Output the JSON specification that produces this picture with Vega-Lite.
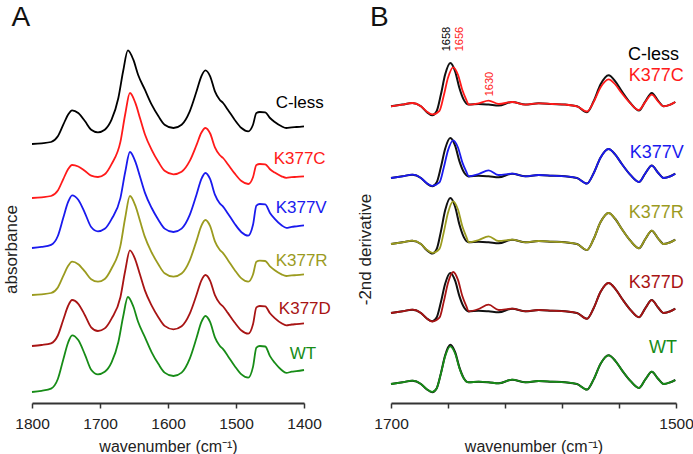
{
"$schema": "https://vega.github.io/schema/vega-lite/v6.json",
"padding": {"left": 2, "top": 4, "right": 0, "bottom": 0},
"background": "white",
"bounds": "flush",
"spacing": 87,
"config": {
  "view": {"stroke": null},
  "font": "Liberation Sans",
  "axisX": {"grid": false, "domainColor": "#333333", "domainWidth": 1.8, "tickColor": "#333333", "tickWidth": 1.5, "tickSize": 5, "labelFontSize": 15.5, "labelColor": "#222222", "labelPadding": 8, "labelFlush": false, "labelOverlap": false, "titleFontSize": 16, "titleFontWeight": "normal", "titleColor": "#222222", "titlePadding": 7},
  "axisY": {"grid": false, "domain": false, "ticks": false, "labels": false, "titleFontSize": 17, "titleFontWeight": "normal", "titleColor": "#222222", "titlePadding": 12}
},
"datasets": {
"a": [
{"s":"C-less","w":1800,"v":259},{"s":"C-less","w":1786,"v":259.7},{"s":"C-less","w":1772,"v":261},{"s":"C-less","w":1762,"v":266.7},{"s":"C-less","w":1754,"v":278.3},{"s":"C-less","w":1747,"v":288.3},{"s":"C-less","w":1741,"v":292.7},{"s":"C-less","w":1732,"v":290},{"s":"C-less","w":1722,"v":281.7},{"s":"C-less","w":1713,"v":273.3},{"s":"C-less","w":1703,"v":270.7},{"s":"C-less","w":1693,"v":273.3},{"s":"C-less","w":1683,"v":283.3},{"s":"C-less","w":1673,"v":305},{"s":"C-less","w":1666,"v":331.7},{"s":"C-less","w":1659,"v":352.7},{"s":"C-less","w":1651,"v":343.3},{"s":"C-less","w":1644,"v":328.3},{"s":"C-less","w":1634,"v":313.3},{"s":"C-less","w":1624,"v":298.3},{"s":"C-less","w":1614,"v":286.7},{"s":"C-less","w":1605,"v":278.3},{"s":"C-less","w":1592,"v":275},{"s":"C-less","w":1580,"v":278.3},{"s":"C-less","w":1568,"v":291.7},{"s":"C-less","w":1558,"v":311.7},{"s":"C-less","w":1551,"v":326.7},{"s":"C-less","w":1545,"v":332.7},{"s":"C-less","w":1538,"v":326.7},{"s":"C-less","w":1531,"v":311.7},{"s":"C-less","w":1524,"v":303.3},{"s":"C-less","w":1519,"v":300},{"s":"C-less","w":1512,"v":293.3},{"s":"C-less","w":1502,"v":283.3},{"s":"C-less","w":1492,"v":275},{"s":"C-less","w":1482,"v":271.7},{"s":"C-less","w":1475,"v":278.3},{"s":"C-less","w":1470,"v":290},{"s":"C-less","w":1465,"v":291},{"s":"C-less","w":1457,"v":290.7},{"s":"C-less","w":1450,"v":285},{"s":"C-less","w":1443,"v":281},{"s":"C-less","w":1433,"v":276.7},{"s":"C-less","w":1426,"v":275},{"s":"C-less","w":1418,"v":275.7},{"s":"C-less","w":1411,"v":276},{"s":"C-less","w":1400,"v":276.7},
{"s":"K377C","w":1800,"v":205},{"s":"K377C","w":1786,"v":205.7},{"s":"K377C","w":1772,"v":207},{"s":"K377C","w":1762,"v":212.5},{"s":"K377C","w":1754,"v":223.9},{"s":"K377C","w":1747,"v":233.7},{"s":"K377C","w":1741,"v":238},{"s":"K377C","w":1732,"v":236.5},{"s":"K377C","w":1722,"v":232},{"s":"K377C","w":1713,"v":227.4},{"s":"K377C","w":1703,"v":226},{"s":"K377C","w":1693,"v":228.7},{"s":"K377C","w":1683,"v":238.9},{"s":"K377C","w":1670,"v":261.1},{"s":"K377C","w":1663,"v":288.5},{"s":"K377C","w":1656,"v":310},{"s":"K377C","w":1648,"v":300.1},{"s":"K377C","w":1641,"v":284.5},{"s":"K377C","w":1634,"v":268.8},{"s":"K377C","w":1624,"v":253.1},{"s":"K377C","w":1614,"v":240.9},{"s":"K377C","w":1605,"v":232.2},{"s":"K377C","w":1592,"v":228.7},{"s":"K377C","w":1580,"v":231.3},{"s":"K377C","w":1568,"v":242.1},{"s":"K377C","w":1558,"v":258.1},{"s":"K377C","w":1551,"v":270.2},{"s":"K377C","w":1545,"v":275},{"s":"K377C","w":1538,"v":269.5},{"s":"K377C","w":1531,"v":255.7},{"s":"K377C","w":1524,"v":248},{"s":"K377C","w":1519,"v":245},{"s":"K377C","w":1512,"v":238.8},{"s":"K377C","w":1502,"v":229.6},{"s":"K377C","w":1492,"v":222},{"s":"K377C","w":1482,"v":219},{"s":"K377C","w":1475,"v":225.8},{"s":"K377C","w":1470,"v":238},{"s":"K377C","w":1465,"v":239},{"s":"K377C","w":1457,"v":238.7},{"s":"K377C","w":1450,"v":233.8},{"s":"K377C","w":1443,"v":230.4},{"s":"K377C","w":1433,"v":226.7},{"s":"K377C","w":1426,"v":225.2},{"s":"K377C","w":1418,"v":225.8},{"s":"K377C","w":1411,"v":226.1},{"s":"K377C","w":1400,"v":226.7},
{"s":"K377V","w":1800,"v":155},{"s":"K377V","w":1786,"v":156.1},{"s":"K377V","w":1772,"v":158.1},{"s":"K377V","w":1762,"v":167},{"s":"K377V","w":1754,"v":185.2},{"s":"K377V","w":1747,"v":200.8},{"s":"K377V","w":1741,"v":207.7},{"s":"K377V","w":1732,"v":203.3},{"s":"K377V","w":1722,"v":189.7},{"s":"K377V","w":1713,"v":176},{"s":"K377V","w":1703,"v":171.7},{"s":"K377V","w":1693,"v":174.2},{"s":"K377V","w":1683,"v":183.9},{"s":"K377V","w":1670,"v":204.9},{"s":"K377V","w":1663,"v":230.7},{"s":"K377V","w":1656,"v":251},{"s":"K377V","w":1648,"v":241.3},{"s":"K377V","w":1641,"v":225.9},{"s":"K377V","w":1634,"v":210.4},{"s":"K377V","w":1624,"v":195},{"s":"K377V","w":1614,"v":183.1},{"s":"K377V","w":1605,"v":174.4},{"s":"K377V","w":1592,"v":171},{"s":"K377V","w":1580,"v":174.4},{"s":"K377V","w":1568,"v":188.1},{"s":"K377V","w":1558,"v":208.5},{"s":"K377V","w":1551,"v":223.9},{"s":"K377V","w":1545,"v":230},{"s":"K377V","w":1538,"v":223.8},{"s":"K377V","w":1531,"v":208.4},{"s":"K377V","w":1524,"v":199.8},{"s":"K377V","w":1519,"v":196.4},{"s":"K377V","w":1512,"v":189.6},{"s":"K377V","w":1502,"v":179.3},{"s":"K377V","w":1492,"v":170.8},{"s":"K377V","w":1482,"v":167.4},{"s":"K377V","w":1475,"v":178.2},{"s":"K377V","w":1470,"v":197.4},{"s":"K377V","w":1465,"v":199},{"s":"K377V","w":1457,"v":198.6},{"s":"K377V","w":1450,"v":190.1},{"s":"K377V","w":1443,"v":184.1},{"s":"K377V","w":1433,"v":177.7},{"s":"K377V","w":1426,"v":175.2},{"s":"K377V","w":1418,"v":176.2},{"s":"K377V","w":1411,"v":176.7},{"s":"K377V","w":1400,"v":177.7},
{"s":"K377R","w":1800,"v":108},{"s":"K377R","w":1786,"v":108.7},{"s":"K377R","w":1772,"v":110},{"s":"K377R","w":1762,"v":115.6},{"s":"K377R","w":1754,"v":127.1},{"s":"K377R","w":1747,"v":136.9},{"s":"K377R","w":1741,"v":141.3},{"s":"K377R","w":1732,"v":138.8},{"s":"K377R","w":1722,"v":131.3},{"s":"K377R","w":1713,"v":123.7},{"s":"K377R","w":1703,"v":121.3},{"s":"K377R","w":1693,"v":124},{"s":"K377R","w":1683,"v":134.5},{"s":"K377R","w":1670,"v":157.1},{"s":"K377R","w":1663,"v":185},{"s":"K377R","w":1656,"v":207},{"s":"K377R","w":1648,"v":197.3},{"s":"K377R","w":1641,"v":181.7},{"s":"K377R","w":1634,"v":166.1},{"s":"K377R","w":1624,"v":150.5},{"s":"K377R","w":1614,"v":138.5},{"s":"K377R","w":1605,"v":129.7},{"s":"K377R","w":1592,"v":126.3},{"s":"K377R","w":1580,"v":129.5},{"s":"K377R","w":1568,"v":142.7},{"s":"K377R","w":1558,"v":162.4},{"s":"K377R","w":1551,"v":177.1},{"s":"K377R","w":1545,"v":183},{"s":"K377R","w":1538,"v":176.9},{"s":"K377R","w":1531,"v":161.7},{"s":"K377R","w":1524,"v":153.3},{"s":"K377R","w":1519,"v":149.9},{"s":"K377R","w":1512,"v":143.1},{"s":"K377R","w":1502,"v":133},{"s":"K377R","w":1492,"v":124.6},{"s":"K377R","w":1482,"v":121.3},{"s":"K377R","w":1475,"v":128.5},{"s":"K377R","w":1470,"v":141.2},{"s":"K377R","w":1465,"v":142.3},{"s":"K377R","w":1457,"v":142},{"s":"K377R","w":1450,"v":136.6},{"s":"K377R","w":1443,"v":132.7},{"s":"K377R","w":1433,"v":128.6},{"s":"K377R","w":1426,"v":127},{"s":"K377R","w":1418,"v":127.6},{"s":"K377R","w":1411,"v":127.9},{"s":"K377R","w":1400,"v":128.6},
{"s":"K377D","w":1800,"v":57},{"s":"K377D","w":1786,"v":58},{"s":"K377D","w":1772,"v":59.7},{"s":"K377D","w":1762,"v":67.5},{"s":"K377D","w":1754,"v":83.3},{"s":"K377D","w":1747,"v":97},{"s":"K377D","w":1741,"v":103},{"s":"K377D","w":1732,"v":99.2},{"s":"K377D","w":1722,"v":87.5},{"s":"K377D","w":1713,"v":75.7},{"s":"K377D","w":1703,"v":72},{"s":"K377D","w":1693,"v":74.6},{"s":"K377D","w":1683,"v":84.4},{"s":"K377D","w":1670,"v":105.8},{"s":"K377D","w":1663,"v":132},{"s":"K377D","w":1656,"v":152.7},{"s":"K377D","w":1648,"v":143.2},{"s":"K377D","w":1641,"v":127.9},{"s":"K377D","w":1634,"v":112.6},{"s":"K377D","w":1624,"v":97.4},{"s":"K377D","w":1614,"v":85.6},{"s":"K377D","w":1605,"v":77.1},{"s":"K377D","w":1592,"v":73.7},{"s":"K377D","w":1580,"v":76.8},{"s":"K377D","w":1568,"v":89.4},{"s":"K377D","w":1558,"v":108.2},{"s":"K377D","w":1551,"v":122.4},{"s":"K377D","w":1545,"v":128},{"s":"K377D","w":1538,"v":122.2},{"s":"K377D","w":1531,"v":107.8},{"s":"K377D","w":1524,"v":99.7},{"s":"K377D","w":1519,"v":96.5},{"s":"K377D","w":1512,"v":90.1},{"s":"K377D","w":1502,"v":80.5},{"s":"K377D","w":1492,"v":72.5},{"s":"K377D","w":1482,"v":69.3},{"s":"K377D","w":1475,"v":78.8},{"s":"K377D","w":1470,"v":95.6},{"s":"K377D","w":1465,"v":97},{"s":"K377D","w":1457,"v":96.6},{"s":"K377D","w":1450,"v":89.7},{"s":"K377D","w":1443,"v":84.9},{"s":"K377D","w":1433,"v":79.7},{"s":"K377D","w":1426,"v":77.6},{"s":"K377D","w":1418,"v":78.5},{"s":"K377D","w":1411,"v":78.9},{"s":"K377D","w":1400,"v":79.7},
{"s":"WT","w":1800,"v":11},{"s":"WT","w":1786,"v":12.2},{"s":"WT","w":1772,"v":14.4},{"s":"WT","w":1762,"v":24},{"s":"WT","w":1754,"v":43.5},{"s":"WT","w":1747,"v":60.3},{"s":"WT","w":1741,"v":67.7},{"s":"WT","w":1732,"v":62.9},{"s":"WT","w":1722,"v":48.2},{"s":"WT","w":1713,"v":33.3},{"s":"WT","w":1703,"v":28.7},{"s":"WT","w":1693,"v":31.2},{"s":"WT","w":1683,"v":40.6},{"s":"WT","w":1673,"v":61},{"s":"WT","w":1666,"v":86.2},{"s":"WT","w":1659,"v":106},{"s":"WT","w":1651,"v":96.5},{"s":"WT","w":1644,"v":81.2},{"s":"WT","w":1634,"v":65.9},{"s":"WT","w":1624,"v":50.7},{"s":"WT","w":1614,"v":38.9},{"s":"WT","w":1605,"v":30.4},{"s":"WT","w":1592,"v":27},{"s":"WT","w":1580,"v":30.4},{"s":"WT","w":1568,"v":44.4},{"s":"WT","w":1558,"v":65.2},{"s":"WT","w":1551,"v":80.8},{"s":"WT","w":1545,"v":87},{"s":"WT","w":1538,"v":80.9},{"s":"WT","w":1531,"v":65.7},{"s":"WT","w":1524,"v":57.3},{"s":"WT","w":1519,"v":53.9},{"s":"WT","w":1512,"v":47.1},{"s":"WT","w":1502,"v":37},{"s":"WT","w":1492,"v":28.6},{"s":"WT","w":1482,"v":25.3},{"s":"WT","w":1475,"v":36.1},{"s":"WT","w":1470,"v":55.3},{"s":"WT","w":1465,"v":57},{"s":"WT","w":1457,"v":56.5},{"s":"WT","w":1450,"v":46.9},{"s":"WT","w":1443,"v":40.2},{"s":"WT","w":1433,"v":33},{"s":"WT","w":1426,"v":30.1},{"s":"WT","w":1418,"v":31.3},{"s":"WT","w":1411,"v":31.8},{"s":"WT","w":1400,"v":33}
],
"la": [
{"s":"C-less","w":1441.7,"v":299.7},
{"s":"K377C","w":1444.6,"v":243.7},
{"s":"K377V","w":1441.7,"v":194.7},
{"s":"K377R","w":1441.7,"v":141.7},
{"s":"K377D","w":1437,"v":93.7},
{"s":"WT","w":1421,"v":48.7}
],
"lb": [
{"s":"C-less","w":1497.9,"v":348.4},
{"s":"K377C","w":1494.6,"v":326.7},
{"s":"K377V","w":1494.6,"v":250},
{"s":"K377R","w":1494.6,"v":190},
{"s":"K377D","w":1494.6,"v":120},
{"s":"WT","w":1499.3,"v":55}
],
"ann": [
{"t":"1658","s":"C-less","w":1660.7,"v":351.7},
{"t":"1656","s":"K377C","w":1651.9,"v":351.7},
{"t":"1630","s":"K377C","w":1630.2,"v":306.7}
],
"pa": [{"t":"A","w":1830,"v":376.7}],
"pb": [{"t":"B","w":1714.7,"v":376.7}],
"k": [
{"s":"b1","w":1700,"v":296.7},{"s":"b1","w":1692,"v":298.4},{"s":"b1","w":1685,"v":300},{"s":"b1","w":1679,"v":296.7},{"s":"b1","w":1675,"v":291},{"s":"b1","w":1671,"v":287.7},{"s":"b1","w":1668,"v":291.7},{"s":"b1","w":1665,"v":308.4},{"s":"b1","w":1662,"v":328.4},{"s":"b1","w":1658.4,"v":340},{"s":"b1","w":1655,"v":331.7},{"s":"b1","w":1652,"v":315},{"s":"b1","w":1649,"v":303.4},{"s":"b1","w":1645.5,"v":298.4},{"s":"b1","w":1638.5,"v":299},{"s":"b1","w":1631.5,"v":298.4},{"s":"b1","w":1624.4,"v":297.4},{"s":"b1","w":1615,"v":301},{"s":"b1","w":1605.7,"v":298.4},{"s":"b1","w":1596.4,"v":299.7},{"s":"b1","w":1587,"v":299},{"s":"b1","w":1577.7,"v":298.4},{"s":"b1","w":1569.5,"v":296.7},{"s":"b1","w":1562.5,"v":290.7},{"s":"b1","w":1557.8,"v":301.7},{"s":"b1","w":1553,"v":318.4},{"s":"b1","w":1547.3,"v":327.7},{"s":"b1","w":1542.6,"v":321.7},{"s":"b1","w":1538,"v":311.7},{"s":"b1","w":1532,"v":300},{"s":"b1","w":1526,"v":292.4},{"s":"b1","w":1521.5,"v":301.7},{"s":"b1","w":1517,"v":310},{"s":"b1","w":1512.6,"v":302.4},{"s":"b1","w":1508.7,"v":296.7},{"s":"b1","w":1504,"v":298.4},{"s":"b1","w":1500.5,"v":301},
{"s":"b2","w":1700,"v":225},{"s":"b2","w":1692,"v":226.7},{"s":"b2","w":1685,"v":228.3},{"s":"b2","w":1679,"v":225},{"s":"b2","w":1675,"v":219.7},{"s":"b2","w":1671,"v":216.7},{"s":"b2","w":1668,"v":220.4},{"s":"b2","w":1665,"v":235.8},{"s":"b2","w":1662,"v":254.3},{"s":"b2","w":1658.4,"v":265},{"s":"b2","w":1655,"v":257.3},{"s":"b2","w":1652,"v":241.9},{"s":"b2","w":1649,"v":231.2},{"s":"b2","w":1645.5,"v":226.6},{"s":"b2","w":1638.5,"v":227.3},{"s":"b2","w":1631.5,"v":226.7},{"s":"b2","w":1624.4,"v":225.7},{"s":"b2","w":1615,"v":229.3},{"s":"b2","w":1605.7,"v":226.7},{"s":"b2","w":1596.4,"v":228},{"s":"b2","w":1587,"v":227.3},{"s":"b2","w":1577.7,"v":226.7},{"s":"b2","w":1569.5,"v":225},{"s":"b2","w":1562.5,"v":219.4},{"s":"b2","w":1557.8,"v":229.7},{"s":"b2","w":1553,"v":245.3},{"s":"b2","w":1547.3,"v":254},{"s":"b2","w":1542.6,"v":248.4},{"s":"b2","w":1538,"v":239},{"s":"b2","w":1532,"v":228.1},{"s":"b2","w":1526,"v":221},{"s":"b2","w":1521.5,"v":229.7},{"s":"b2","w":1517,"v":237.4},{"s":"b2","w":1512.6,"v":230.3},{"s":"b2","w":1508.7,"v":225},{"s":"b2","w":1504,"v":226.7},{"s":"b2","w":1500.5,"v":229.3},
{"s":"b3","w":1700,"v":159},{"s":"b3","w":1692,"v":160.7},{"s":"b3","w":1685,"v":162.3},{"s":"b3","w":1679,"v":159},{"s":"b3","w":1675,"v":152.9},{"s":"b3","w":1671,"v":149.4},{"s":"b3","w":1668,"v":153.7},{"s":"b3","w":1665,"v":171.4},{"s":"b3","w":1662,"v":192.7},{"s":"b3","w":1658.4,"v":205},{"s":"b3","w":1655,"v":196.2},{"s":"b3","w":1652,"v":178.4},{"s":"b3","w":1649,"v":166.1},{"s":"b3","w":1645.5,"v":160.7},{"s":"b3","w":1638.5,"v":161.3},{"s":"b3","w":1631.5,"v":160.7},{"s":"b3","w":1624.4,"v":159.7},{"s":"b3","w":1615,"v":163.3},{"s":"b3","w":1605.7,"v":160.7},{"s":"b3","w":1596.4,"v":162},{"s":"b3","w":1587,"v":161.3},{"s":"b3","w":1577.7,"v":160.7},{"s":"b3","w":1569.5,"v":159},{"s":"b3","w":1562.5,"v":153},{"s":"b3","w":1557.8,"v":164},{"s":"b3","w":1553,"v":180.7},{"s":"b3","w":1547.3,"v":190},{"s":"b3","w":1542.6,"v":184},{"s":"b3","w":1538,"v":174},{"s":"b3","w":1532,"v":162.3},{"s":"b3","w":1526,"v":154.7},{"s":"b3","w":1521.5,"v":164},{"s":"b3","w":1517,"v":172.3},{"s":"b3","w":1512.6,"v":164.7},{"s":"b3","w":1508.7,"v":159},{"s":"b3","w":1504,"v":160.7},{"s":"b3","w":1500.5,"v":163.3},
{"s":"b4","w":1700,"v":90},{"s":"b4","w":1692,"v":91.7},{"s":"b4","w":1685,"v":93.3},{"s":"b4","w":1679,"v":90},{"s":"b4","w":1675,"v":84.7},{"s":"b4","w":1671,"v":81.7},{"s":"b4","w":1668,"v":85.4},{"s":"b4","w":1665,"v":100.8},{"s":"b4","w":1662,"v":119.3},{"s":"b4","w":1658.4,"v":130},{"s":"b4","w":1655,"v":122.3},{"s":"b4","w":1652,"v":106.9},{"s":"b4","w":1649,"v":96.2},{"s":"b4","w":1645.5,"v":91.6},{"s":"b4","w":1638.5,"v":92.3},{"s":"b4","w":1631.5,"v":91.7},{"s":"b4","w":1624.4,"v":90.7},{"s":"b4","w":1615,"v":94.3},{"s":"b4","w":1605.7,"v":91.7},{"s":"b4","w":1596.4,"v":93},{"s":"b4","w":1587,"v":92.3},{"s":"b4","w":1577.7,"v":91.7},{"s":"b4","w":1569.5,"v":90},{"s":"b4","w":1562.5,"v":84.2},{"s":"b4","w":1557.8,"v":94.8},{"s":"b4","w":1553,"v":111},{"s":"b4","w":1547.3,"v":120},{"s":"b4","w":1542.6,"v":114.2},{"s":"b4","w":1538,"v":104.5},{"s":"b4","w":1532,"v":93.2},{"s":"b4","w":1526,"v":85.8},{"s":"b4","w":1521.5,"v":94.8},{"s":"b4","w":1517,"v":102.9},{"s":"b4","w":1512.6,"v":95.5},{"s":"b4","w":1508.7,"v":90},{"s":"b4","w":1504,"v":91.7},{"s":"b4","w":1500.5,"v":94.3},
{"s":"b5","w":1700,"v":19},{"s":"b5","w":1692,"v":20.7},{"s":"b5","w":1685,"v":22.3},{"s":"b5","w":1679,"v":19},{"s":"b5","w":1675,"v":13.8},{"s":"b5","w":1671,"v":10.8},{"s":"b5","w":1668,"v":14.5},{"s":"b5","w":1665,"v":29.6},{"s":"b5","w":1662,"v":47.8},{"s":"b5","w":1658.4,"v":58.3},{"s":"b5","w":1655,"v":50.8},{"s":"b5","w":1652,"v":35.6},{"s":"b5","w":1649,"v":25.1},{"s":"b5","w":1645.5,"v":20.7},{"s":"b5","w":1638.5,"v":21.3},{"s":"b5","w":1631.5,"v":20.7},{"s":"b5","w":1624.4,"v":19.7},{"s":"b5","w":1615,"v":23.3},{"s":"b5","w":1605.7,"v":20.7},{"s":"b5","w":1596.4,"v":22},{"s":"b5","w":1587,"v":21.3},{"s":"b5","w":1577.7,"v":20.7},{"s":"b5","w":1569.5,"v":19},{"s":"b5","w":1562.5,"v":13.4},{"s":"b5","w":1557.8,"v":23.6},{"s":"b5","w":1553,"v":39.1},{"s":"b5","w":1547.3,"v":47.7},{"s":"b5","w":1542.6,"v":42.2},{"s":"b5","w":1538,"v":32.9},{"s":"b5","w":1532,"v":22.1},{"s":"b5","w":1526,"v":15},{"s":"b5","w":1521.5,"v":23.6},{"s":"b5","w":1517,"v":31.3},{"s":"b5","w":1512.6,"v":24.3},{"s":"b5","w":1508.7,"v":19},{"s":"b5","w":1504,"v":20.7},{"s":"b5","w":1500.5,"v":23}
],
"c": [
{"s":"K377C","w":1700,"v":296.7},{"s":"K377C","w":1692,"v":298.4},{"s":"K377C","w":1685,"v":300},{"s":"K377C","w":1679,"v":296.7},{"s":"K377C","w":1675,"v":291.6},{"s":"K377C","w":1671,"v":288.6},{"s":"K377C","w":1666,"v":292.2},{"s":"K377C","w":1663,"v":307.2},{"s":"K377C","w":1660,"v":325.2},{"s":"K377C","w":1656.4,"v":335.7},{"s":"K377C","w":1653,"v":328.2},{"s":"K377C","w":1650,"v":313.2},{"s":"K377C","w":1647,"v":302.7},{"s":"K377C","w":1645.5,"v":298.4},{"s":"K377C","w":1638.5,"v":299.7},{"s":"K377C","w":1631.5,"v":302.4},{"s":"K377C","w":1624.4,"v":299},{"s":"K377C","w":1615,"v":301},{"s":"K377C","w":1605.7,"v":298.4},{"s":"K377C","w":1596.4,"v":299.7},{"s":"K377C","w":1587,"v":299},{"s":"K377C","w":1577.7,"v":298.4},{"s":"K377C","w":1569.5,"v":296.7},{"s":"K377C","w":1562.5,"v":291.5},{"s":"K377C","w":1557.8,"v":301.1},{"s":"K377C","w":1553,"v":315.6},{"s":"K377C","w":1547.3,"v":323.7},{"s":"K377C","w":1542.6,"v":318.5},{"s":"K377C","w":1538,"v":309.7},{"s":"K377C","w":1532,"v":299.6},{"s":"K377C","w":1526,"v":293},{"s":"K377C","w":1521.5,"v":301.1},{"s":"K377C","w":1517,"v":308.3},{"s":"K377C","w":1512.6,"v":301.7},{"s":"K377C","w":1508.7,"v":296.7},{"s":"K377C","w":1504,"v":298.4},{"s":"K377C","w":1500.5,"v":301},
{"s":"K377V","w":1700,"v":225},{"s":"K377V","w":1692,"v":226.7},{"s":"K377V","w":1685,"v":228.3},{"s":"K377V","w":1679,"v":225},{"s":"K377V","w":1675,"v":220},{"s":"K377V","w":1671,"v":217.2},{"s":"K377V","w":1666,"v":220.6},{"s":"K377V","w":1663,"v":235.2},{"s":"K377V","w":1660,"v":252.6},{"s":"K377V","w":1656.4,"v":262.7},{"s":"K377V","w":1653,"v":255.5},{"s":"K377V","w":1650,"v":240.9},{"s":"K377V","w":1647,"v":230.8},{"s":"K377V","w":1645.5,"v":226.7},{"s":"K377V","w":1638.5,"v":229},{"s":"K377V","w":1631.5,"v":232.7},{"s":"K377V","w":1624.4,"v":228},{"s":"K377V","w":1615,"v":229.3},{"s":"K377V","w":1605.7,"v":226.7},{"s":"K377V","w":1596.4,"v":228},{"s":"K377V","w":1587,"v":227.3},{"s":"K377V","w":1577.7,"v":226.7},{"s":"K377V","w":1569.5,"v":225},{"s":"K377V","w":1562.5,"v":219.4},{"s":"K377V","w":1557.8,"v":229.7},{"s":"K377V","w":1553,"v":245.3},{"s":"K377V","w":1547.3,"v":254},{"s":"K377V","w":1542.6,"v":248.4},{"s":"K377V","w":1538,"v":239},{"s":"K377V","w":1532,"v":228.1},{"s":"K377V","w":1526,"v":221},{"s":"K377V","w":1521.5,"v":229.7},{"s":"K377V","w":1517,"v":237.4},{"s":"K377V","w":1512.6,"v":230.3},{"s":"K377V","w":1508.7,"v":225},{"s":"K377V","w":1504,"v":226.7},{"s":"K377V","w":1500.5,"v":229.3},
{"s":"K377R","w":1700,"v":159},{"s":"K377R","w":1692,"v":160.7},{"s":"K377R","w":1685,"v":162.3},{"s":"K377R","w":1679,"v":159},{"s":"K377R","w":1675,"v":153.4},{"s":"K377R","w":1671,"v":150.1},{"s":"K377R","w":1666,"v":154.1},{"s":"K377R","w":1663,"v":170.5},{"s":"K377R","w":1660,"v":190.3},{"s":"K377R","w":1656.4,"v":201.7},{"s":"K377R","w":1653,"v":193.5},{"s":"K377R","w":1650,"v":177},{"s":"K377R","w":1647,"v":165.6},{"s":"K377R","w":1645.5,"v":160.7},{"s":"K377R","w":1638.5,"v":163},{"s":"K377R","w":1631.5,"v":166.7},{"s":"K377R","w":1624.4,"v":162},{"s":"K377R","w":1615,"v":163.3},{"s":"K377R","w":1605.7,"v":160.7},{"s":"K377R","w":1596.4,"v":162},{"s":"K377R","w":1587,"v":161.3},{"s":"K377R","w":1577.7,"v":160.7},{"s":"K377R","w":1569.5,"v":159},{"s":"K377R","w":1562.5,"v":153},{"s":"K377R","w":1557.8,"v":164},{"s":"K377R","w":1553,"v":180.7},{"s":"K377R","w":1547.3,"v":190},{"s":"K377R","w":1542.6,"v":184},{"s":"K377R","w":1538,"v":174},{"s":"K377R","w":1532,"v":162.3},{"s":"K377R","w":1526,"v":154.7},{"s":"K377R","w":1521.5,"v":164},{"s":"K377R","w":1517,"v":172.3},{"s":"K377R","w":1512.6,"v":164.7},{"s":"K377R","w":1508.7,"v":159},{"s":"K377R","w":1504,"v":160.7},{"s":"K377R","w":1500.5,"v":163.3},
{"s":"K377D","w":1700,"v":90},{"s":"K377D","w":1692,"v":91.7},{"s":"K377D","w":1685,"v":93.3},{"s":"K377D","w":1679,"v":90},{"s":"K377D","w":1675,"v":84.6},{"s":"K377D","w":1671,"v":81.5},{"s":"K377D","w":1666,"v":85.3},{"s":"K377D","w":1663,"v":101.1},{"s":"K377D","w":1660,"v":120},{"s":"K377D","w":1656.4,"v":131},{"s":"K377D","w":1653,"v":123.1},{"s":"K377D","w":1650,"v":107.3},{"s":"K377D","w":1647,"v":96.3},{"s":"K377D","w":1645.5,"v":91.7},{"s":"K377D","w":1638.5,"v":94},{"s":"K377D","w":1631.5,"v":98.3},{"s":"K377D","w":1624.4,"v":93},{"s":"K377D","w":1615,"v":94.3},{"s":"K377D","w":1605.7,"v":91.7},{"s":"K377D","w":1596.4,"v":93},{"s":"K377D","w":1587,"v":92.3},{"s":"K377D","w":1577.7,"v":91.7},{"s":"K377D","w":1569.5,"v":90},{"s":"K377D","w":1562.5,"v":84.2},{"s":"K377D","w":1557.8,"v":94.8},{"s":"K377D","w":1553,"v":111},{"s":"K377D","w":1547.3,"v":120},{"s":"K377D","w":1542.6,"v":114.2},{"s":"K377D","w":1538,"v":104.5},{"s":"K377D","w":1532,"v":93.2},{"s":"K377D","w":1526,"v":85.8},{"s":"K377D","w":1521.5,"v":94.8},{"s":"K377D","w":1517,"v":102.9},{"s":"K377D","w":1512.6,"v":95.5},{"s":"K377D","w":1508.7,"v":90},{"s":"K377D","w":1504,"v":91.7},{"s":"K377D","w":1500.5,"v":94.3},
{"s":"WT","w":1700,"v":19},{"s":"WT","w":1692,"v":20.7},{"s":"WT","w":1685,"v":22.3},{"s":"WT","w":1679,"v":19},{"s":"WT","w":1675,"v":14},{"s":"WT","w":1671,"v":11.2},{"s":"WT","w":1668,"v":14.6},{"s":"WT","w":1665,"v":29.2},{"s":"WT","w":1662,"v":46.6},{"s":"WT","w":1658.4,"v":56.7},{"s":"WT","w":1655,"v":49.5},{"s":"WT","w":1652,"v":34.9},{"s":"WT","w":1649,"v":24.8},{"s":"WT","w":1645.5,"v":20.7},{"s":"WT","w":1638.5,"v":21.3},{"s":"WT","w":1631.5,"v":20.7},{"s":"WT","w":1624.4,"v":19.7},{"s":"WT","w":1615,"v":23.3},{"s":"WT","w":1605.7,"v":20.7},{"s":"WT","w":1596.4,"v":22},{"s":"WT","w":1587,"v":21.3},{"s":"WT","w":1577.7,"v":20.7},{"s":"WT","w":1569.5,"v":19},{"s":"WT","w":1562.5,"v":13.4},{"s":"WT","w":1557.8,"v":23.6},{"s":"WT","w":1553,"v":39.1},{"s":"WT","w":1547.3,"v":47.7},{"s":"WT","w":1542.6,"v":42.2},{"s":"WT","w":1538,"v":32.9},{"s":"WT","w":1532,"v":22.1},{"s":"WT","w":1526,"v":15},{"s":"WT","w":1521.5,"v":23.6},{"s":"WT","w":1517,"v":31.3},{"s":"WT","w":1512.6,"v":24.3},{"s":"WT","w":1508.7,"v":19},{"s":"WT","w":1504,"v":20.7},{"s":"WT","w":1500.5,"v":23}
]
},
"hconcat": [
{
  "width": 272, "height": 360,
  "layer": [
    {"data": {"name": "a"}, "mark": {"type": "line", "strokeWidth": 1.8, "interpolate": "monotone"},
     "encoding": {
       "x": {"field": "w", "type": "quantitative", "scale": {"domain": [1400, 1800], "reverse": true, "nice": false, "zero": false}, "axis": {"title": "wavenumber (cm⁻¹)", "values": [1800, 1750, 1700, 1650, 1600, 1550, 1500, 1450, 1400], "format": "d", "labelExpr": "datum.value % 100 === 0 ? datum.label : ''"}},
       "y": {"field": "v", "type": "quantitative", "scale": {"domain": [0, 360], "nice": false, "zero": false}, "axis": {"title": "absorbance", "titleY": 206}},
       "color": {"field": "s", "type": "nominal", "scale": {"domain": ["C-less", "K377C", "K377V", "K377R", "K377D", "WT"], "range": ["#000000", "#ff1a1a", "#1a1aee", "#9b9b1f", "#a81414", "#178c17"]}, "legend": null}
     }},
    {"data": {"name": "la"}, "mark": {"type": "text", "align": "left", "baseline": "middle", "fontSize": 17},
     "encoding": {
       "x": {"field": "w", "type": "quantitative"},
       "y": {"field": "v", "type": "quantitative"},
       "text": {"field": "s"},
       "color": {"field": "s", "type": "nominal", "scale": {"domain": ["C-less", "K377C", "K377V", "K377R", "K377D", "WT"], "range": ["#000000", "#ff1a1a", "#1a1aee", "#9b9b1f", "#a81414", "#178c17"]}, "legend": null}
     }},
    {"data": {"name": "pa"}, "mark": {"type": "text", "align": "left", "baseline": "alphabetic", "fontSize": 28, "color": "#111111"},
     "encoding": {
       "x": {"field": "w", "type": "quantitative"},
       "y": {"field": "v", "type": "quantitative"},
       "text": {"field": "t"}
     }}
  ]
},
{
  "width": 285, "height": 360,
  "layer": [
    {"data": {"name": "k"}, "mark": {"type": "line", "strokeWidth": 2, "color": "#111111", "interpolate": "monotone"},
     "encoding": {
       "x": {"field": "w", "type": "quantitative", "scale": {"domain": [1500, 1700], "reverse": true, "nice": false, "zero": false}, "axis": {"title": "wavenumber (cm⁻¹)", "values": [1700, 1680, 1660, 1640, 1620, 1600, 1580, 1560, 1540, 1520, 1500], "format": "d", "labelExpr": "datum.value % 100 === 0 ? datum.label : ''"}},
       "y": {"field": "v", "type": "quantitative", "scale": {"domain": [0, 360], "nice": false, "zero": false}, "axis": {"title": "-2nd derivative", "titleY": 206, "titlePadding": 17}},
       "detail": {"field": "s"}
     }},
    {"data": {"name": "c"}, "mark": {"type": "line", "strokeWidth": 1.8, "interpolate": "monotone"},
     "encoding": {
       "x": {"field": "w", "type": "quantitative"},
       "y": {"field": "v", "type": "quantitative"},
       "color": {"field": "s", "type": "nominal", "scale": {"domain": ["C-less", "K377C", "K377V", "K377R", "K377D", "WT"], "range": ["#000000", "#ff1a1a", "#1a1aee", "#9b9b1f", "#a81414", "#178c17"]}, "legend": null}
     }},
    {"data": {"name": "lb"}, "mark": {"type": "text", "align": "right", "baseline": "middle", "fontSize": 18},
     "encoding": {
       "x": {"field": "w", "type": "quantitative"},
       "y": {"field": "v", "type": "quantitative"},
       "text": {"field": "s"},
       "color": {"field": "s", "type": "nominal", "scale": {"domain": ["C-less", "K377C", "K377V", "K377R", "K377D", "WT"], "range": ["#000000", "#ff1a1a", "#1a1aee", "#9b9b1f", "#a81414", "#178c17"]}, "legend": null}
     }},
    {"data": {"name": "ann"}, "mark": {"type": "text", "align": "left", "baseline": "middle", "angle": 270, "fontSize": 11},
     "encoding": {
       "x": {"field": "w", "type": "quantitative"},
       "y": {"field": "v", "type": "quantitative"},
       "text": {"field": "t"},
       "color": {"field": "s", "type": "nominal", "scale": {"domain": ["C-less", "K377C", "K377V", "K377R", "K377D", "WT"], "range": ["#000000", "#ff1a1a", "#1a1aee", "#9b9b1f", "#a81414", "#178c17"]}, "legend": null}
     }},
    {"data": {"name": "pb"}, "mark": {"type": "text", "align": "left", "baseline": "alphabetic", "fontSize": 28, "color": "#111111"},
     "encoding": {
       "x": {"field": "w", "type": "quantitative"},
       "y": {"field": "v", "type": "quantitative"},
       "text": {"field": "t"}
     }}
  ]
}
]
}
